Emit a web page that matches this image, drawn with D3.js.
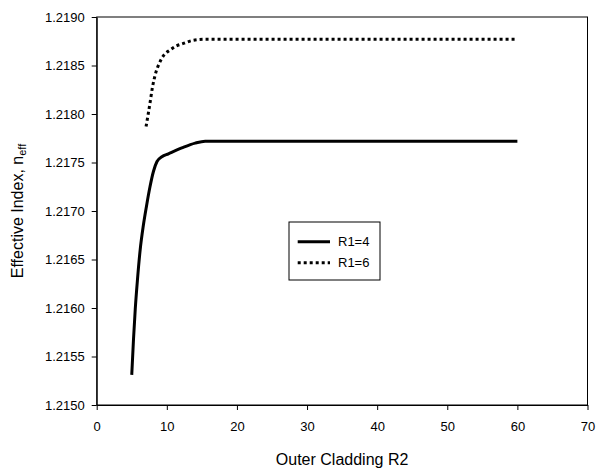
<!DOCTYPE html>
<html>
<head>
<meta charset="utf-8">
<script src="https://cdn.jsdelivr.net/npm/d3@7"></script>
<style>
  html, body { margin: 0; padding: 0; background: #fff; }
  svg { display: block; font-family: "Liberation Sans", Arial, sans-serif; }
</style>
</head>
<body>
<svg id="chart" width="599" height="468"></svg>
<script>
// ---- data ----
const r2_R1_4   = [5.0, 5.25, 5.5, 5.8, 6.2, 6.65, 7.1, 7.6, 8.1, 8.6, 9.3, 10.23, 12.14, 14.04, 15.47, 18, 20, 25, 30, 35, 40, 45, 50, 55, 60];
const neff_R1_4 = [1.21531, 1.21568, 1.21599, 1.21628, 1.21660, 1.21685, 1.21705, 1.21725, 1.21741, 1.21751, 1.21756, 1.21759, 1.21765, 1.21770, 1.21772, 1.21772, 1.21772, 1.21772, 1.21772, 1.21772, 1.21772, 1.21772, 1.21772, 1.21772, 1.21772];
const r2_R1_6   = [7.04, 7.37, 7.66, 7.94, 8.37, 9.04, 9.61, 10.47, 11.29, 12.09, 13.8, 15.47, 18, 20, 25, 30, 35, 40, 45, 50, 55, 60];
const neff_R1_6 = [1.21787, 1.21801, 1.21814, 1.21827, 1.21841, 1.21854, 1.21861, 1.21866, 1.21870, 1.21872, 1.21876, 1.21877, 1.21877, 1.21877, 1.21877, 1.21877, 1.21877, 1.21877, 1.21877, 1.21877, 1.21877, 1.21877];
const seriesNames = ["R1=4", "R1=6"];
const xTicks = [0, 10, 20, 30, 40, 50, 60, 70];
const yTicks = [1.2150, 1.2155, 1.2160, 1.2165, 1.2170, 1.2175, 1.2180, 1.2185, 1.2190];

const svg = d3.select("#chart");
const L = 96.7, R = 587.5, T = 17, B = 405;

const x = d3.scaleLinear().domain([0, 70]).range([L, R]);
const y = d3.scaleLinear().domain([1.2150, 1.2190]).range([B, T]);

// frame
svg.append("rect").attr("x", L).attr("y", T).attr("width", R - L).attr("height", B - T)
  .attr("fill", "none").attr("stroke", "#000").attr("stroke-width", 1);

// axes
const xAxis = svg.append("g").attr("transform", `translate(0,${B})`)
  .call(d3.axisBottom(x).tickValues(xTicks).tickFormat(d3.format("d")).tickSize(5).tickPadding(12).tickSizeOuter(0));
const yAxis = svg.append("g").attr("transform", `translate(${L},0)`)
  .call(d3.axisLeft(y).tickValues(yTicks).tickFormat(d3.format(".4f")).tickSize(5).tickPadding(7).tickSizeOuter(0));
[xAxis, yAxis].forEach(g => {
  g.select(".domain").attr("stroke", "#000");
  g.selectAll(".tick line").attr("stroke", "#000");
  g.selectAll(".tick text").attr("fill", "#000")
    .style("font-family", "'Liberation Sans', Arial, sans-serif").style("font-size", "13px");
});

// lines
const line = d3.line().x(d => x(d[0])).y(d => y(d[1])).curve(d3.curveMonotoneX);
const d4 = r2_R1_4.map((v, i) => [v, neff_R1_4[i]]);
const d6 = r2_R1_6.map((v, i) => [v, neff_R1_6[i]]);

svg.append("path").datum(d4).attr("d", line)
  .attr("fill", "none").attr("stroke", "#000").attr("stroke-width", 3);
svg.append("path").datum(d6).attr("d", line)
  .attr("fill", "none").attr("stroke", "#000").attr("stroke-width", 3)
  .attr("stroke-dasharray", "3,3");

// legend
const lg = svg.append("g");
lg.append("rect").attr("x", 289).attr("y", 222).attr("width", 91).attr("height", 58)
  .attr("fill", "#fff").attr("stroke", "#000").attr("stroke-width", 1);
const legendY = [241.7, 262.7];
const dashes = [null, "3,3"];
seriesNames.forEach((name, i) => {
  lg.append("line").attr("x1", 297.7).attr("x2", 330).attr("y1", legendY[i]).attr("y2", legendY[i])
    .attr("stroke", "#000").attr("stroke-width", 3).attr("stroke-dasharray", dashes[i]);
  lg.append("text").attr("x", 338).attr("y", legendY[i]).attr("dy", "0.35em")
    .style("font-size", "13px").attr("fill", "#000").text(name);
});

// titles
svg.append("text").attr("x", (L + R) / 2).attr("y", 465).attr("text-anchor", "middle")
  .style("font-size", "16px").attr("fill", "#000").text("Outer Cladding R2");

const yt = svg.append("text").attr("transform", `translate(23,${(T + B) / 2}) rotate(-90)`)
  .attr("text-anchor", "middle").style("font-size", "16px").attr("fill", "#000");
yt.append("tspan").text("Effective Index, n");
yt.append("tspan").attr("dy", "0.3em").style("font-size", "11px").text("eff");
</script>
</body>
</html>
